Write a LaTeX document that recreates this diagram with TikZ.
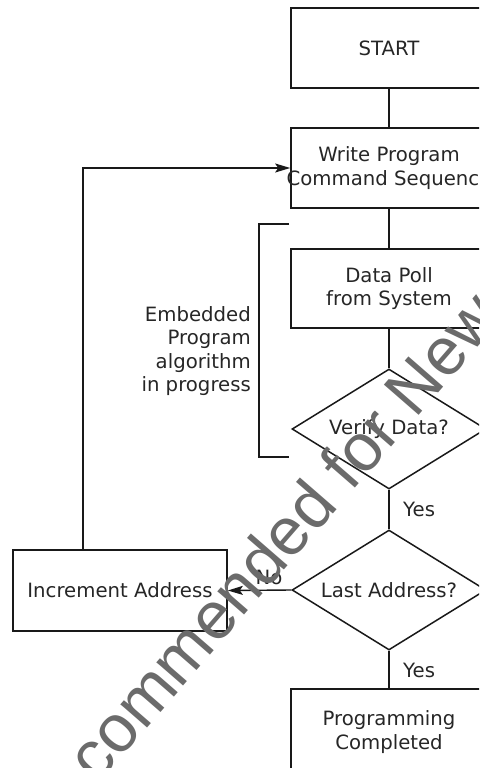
\documentclass[tikz,border=0pt]{standalone}
\usepackage{fontspec}
\setmainfont{DejaVu Sans}
\newfontfamily\wmfont{Liberation Sans}
\usetikzlibrary{shapes.geometric,arrows.meta,calc}

\begin{document}
\begin{tikzpicture}[x=1pt,y=-1pt,
  txt/.style={font=\fontsize{19.7}{23.5}\selectfont, text=black!85, align=center, inner sep=0pt},
  box/.style={draw=black!90, line width=1.6pt, minimum width=196pt, minimum height=80pt, inner sep=0pt},
  decision/.style={draw=black!90, diamond, line width=1.5pt, minimum width=194pt, minimum height=120pt, inner sep=0pt},
  link/.style={draw=black!90, line width=1.4pt},
  arrow/.style={link, -{Stealth[length=15pt,width=9pt,inset=3pt]}},
  wmtext/.style={font=\wmfont\fontsize{67}{67}\selectfont, text=black!58, inner sep=0pt}
]
\useasboundingbox (0,0) rectangle (479,768);
\clip (0,0) rectangle (479,768);

% process boxes and decisions
\node[box] (start) at (389,48) {};
\node[txt] at (start) {START};

\node[box] (write) at (389,168) {};
\node[txt] at (write) {Write Program\\Command Sequence};

\node[box, minimum height=79pt] (poll) at (389,288.5) {};
\node[txt] at (poll) {Data Poll\\from System};

\node[decision] (verify) at (389,429) {};
\node[txt] at (verify) {Verify Data?};

\node[decision] (last) at (389,590) {};
\node[txt] at (last) {Last Address?};

\node[box, minimum width=214pt, minimum height=81pt] (incr) at (120,590.5) {};
\node[txt] at (incr) {Increment Address};

\node[box, minimum height=86pt] (done) at (389,732) {};
\node[txt] at (done) {Programming\\Completed};

% main flow
\draw[link] (start.south) -- (write.north);
\draw[link] (write.south) -- (poll.north);
\draw[link] (poll.south) -- (verify.north);
\draw[link] (verify.south) -- (last.north);
\draw[link] (last.south) -- (done.north);
\draw[arrow] (last.west) -- (incr.east);

% loop back to the write step
\coordinate (loopup) at (83,168);
\draw[arrow] (incr.north -| loopup) -- (loopup) -- (write.west);

% branch labels
\node[txt, anchor=west] (yes1) at (403,509) {Yes};
\node[txt, anchor=west] (yes2) at (403,670) {Yes};
\node[txt] (no) at (269,577) {No};

% bracket around the embedded algorithm
\coordinate (bt) at (289,224);
\coordinate (bb) at (289,457);
\draw[link, line width=1.2pt] (bt) -- ++(-30,0) |- (bb);
\node[txt, align=right, anchor=east] (embed) at (251,351)
  {Embedded\\Program\\algorithm\\in progress};

% watermark
\node[wmtext, rotate=49, anchor=base west] (wm) at (-39,942)
  {Not Recommended for New Designs};
\end{tikzpicture}
\end{document}
